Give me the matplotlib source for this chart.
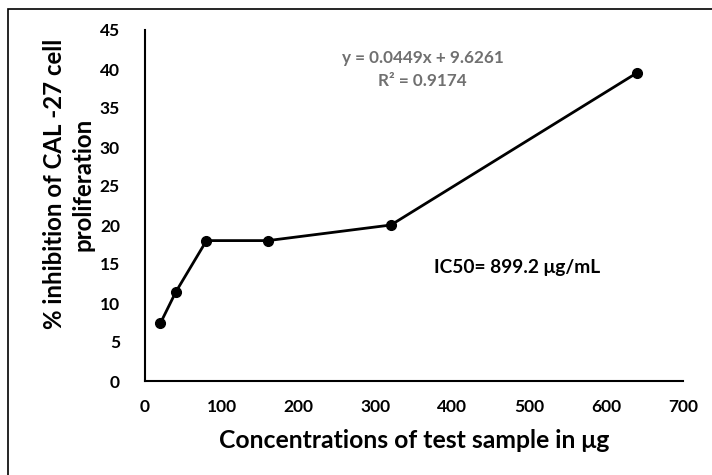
import matplotlib
matplotlib.use("Agg")
import matplotlib.pyplot as plt
from matplotlib.patches import Rectangle

# concentration (ug) vs % inhibition
conc = [20, 40, 80, 160, 320, 640]
inhibition = [7.4, 11.4, 18.0, 18.0, 20.0, 39.5]
x_ticks = [0, 100, 200, 300, 400, 500, 600, 700]
y_ticks = [0, 5, 10, 15, 20, 25, 30, 35, 40, 45]

plt.rcParams['font.family'] = ['Lato', 'DejaVu Sans']

W, H = 712, 475
fig = plt.figure(figsize=(W / 100, H / 100), dpi=100)
ax = fig.add_axes([145 / W, 1 - 381 / H, 538 / W, 351 / H])

ax.plot(conc, inhibition, color='black', lw=2, marker='o', ms=7)

ax.set_xlim(0, 700)
ax.set_ylim(0, 45)
ax.set_xticks(x_ticks)
ax.set_yticks(y_ticks)
ax.tick_params(length=0, labelsize=12.5)
ax.tick_params(axis='x', pad=13)
ax.tick_params(axis='y', pad=18)
for lab in ax.get_xticklabels() + ax.get_yticklabels():
    lab.set_fontweight('bold')

for s in ['top', 'right']:
    ax.spines[s].set_visible(False)
for s in ['left', 'bottom']:
    ax.spines[s].set_linewidth(1.5)

ax.set_xlabel("Concentrations of test sample in μg", fontsize=17.8, fontweight='bold', labelpad=10)
ax.set_ylabel("% inhibition of CAL -27 cell\nproliferation", fontsize=17.3, fontweight='bold',
              va='center', linespacing=1.3)
ax.yaxis.set_label_coords((68.5 - 145) / 538, (381 - 184) / 351)

fig.text(423 / W, 1 - 58 / H, "y = 0.0449x + 9.6261", color='#707070',
         fontsize=12.3, fontweight='bold', ha='center', va='center')
fig.text(422 / W, 1 - 81 / H, "R² = 0.9174", color='#707070',
         fontsize=12.3, fontweight='bold', ha='center', va='center')
fig.text(517 / W, 1 - 268 / H, "IC50= 899.2 μg/mL", fontsize=13.75, fontweight='bold',
         ha='center', va='center')

# outer frame (only left and top edges fall inside the picture)
fig.patches.append(Rectangle((8 / W, -0.1), 1.2, 1.1 - 9 / H,
                             transform=fig.transFigure, fill=False, lw=1.2, ec='black'))

fig.savefig("out.png", dpi=100)
